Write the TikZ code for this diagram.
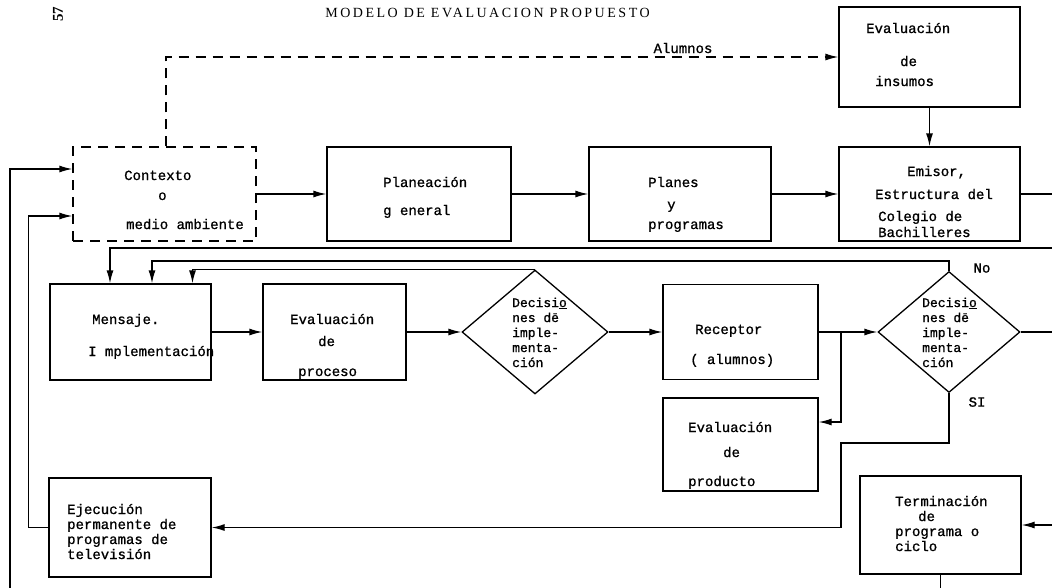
\documentclass[tikz,border=0pt]{standalone}
\usepackage{fontspec}
\setmainfont{Liberation Serif}
\newfontfamily\boxfont[FakeBold=1]{Liberation Mono}
\newfontfamily\titlefont[LetterSpace=18]{Liberation Serif}
\usetikzlibrary{arrows.meta,shapes.geometric}
\begin{document}
\begin{tikzpicture}[x=1pt,y=-1pt,
  box/.style={draw, rectangle, line width=1.3pt, inner sep=0pt},
  dbox/.style={box, dash pattern=on 10pt off 7pt},
  dia/.style={draw, diamond, line width=1.3pt, inner sep=0pt},
  txt/.style={font=\boxfont\fontsize{14}{15}\selectfont, align=left, inner sep=0pt, anchor=base west},
  dtxt/.style={font=\boxfont\fontsize{13}{15}\selectfont, align=left, inner sep=0pt, anchor=base west},
  lbl/.style={font=\boxfont\fontsize{14}{15}\selectfont, inner sep=0pt},
  conn/.style={line width=1.3pt, -{Latex[length=13pt,width=7pt]}},
  dconn/.style={conn, dash pattern=on 10pt off 7pt}]
\useasboundingbox (0,0) rectangle (1052,587);
\fill[white] (0,0) rectangle (1052,587);

% boxes
\node[box, minimum width=181pt, minimum height=100pt] (insumos) at (929.5,57) {};
\node[dbox, minimum width=183pt, minimum height=94pt] (contexto) at (164.5,194) {};
\node[box, minimum width=184pt, minimum height=94pt] (planeacion) at (419,194) {};
\node[box, minimum width=182pt, minimum height=94pt] (planes) at (680,194) {};
\node[box, minimum width=181pt, minimum height=94pt] (emisor) at (929.5,194) {};
\node[box, minimum width=161pt, minimum height=96pt] (mensaje) at (130.5,332) {};
\node[box, minimum width=143pt, minimum height=96pt] (proceso) at (334.5,332) {};
\node[dia, minimum width=146pt, minimum height=124pt] (dec1) at (535,332) {};
\node[box, minimum width=155pt, minimum height=95pt] (receptor) at (740.5,332) {};
\node[box, minimum width=155pt, minimum height=93pt] (producto) at (740.5,444.5) {};
\node[dia, minimum width=142pt, minimum height=121pt] (dec2) at (949,332) {};
\node[box, minimum width=161pt, minimum height=98pt] (terminacion) at (940.5,525) {};
\node[box, minimum width=162pt, minimum height=99pt] (ejecucion) at (130,527.5) {};

% texts (anchor = baseline of the last line)
\node[txt] (t-insumos) at (866,86) {Evaluación\\[18pt]\hspace*{34pt}de\\[5pt]\hspace*{9pt}insumos};
\node[txt] (t-contexto) at (124,229) {Contexto\\[5pt]\hspace*{34pt}o\\[14pt]\hspace*{2pt}medio ambiente};
\node[txt] (t-planeacion) at (383,215) {Planeación\\[13pt]g eneral};
\node[txt] (t-planes) at (648,229) {Planes\\[7pt]\hspace*{19pt}y\\[5pt]programas};
\node[txt] (t-emisor) at (875,237) {\hspace*{32pt}Emisor,\\[8pt]Estructura del\\[7pt]\hspace*{3pt}Colegio de\\[1pt]\hspace*{3pt}Bachilleres};
\node[txt] (t-mensaje) at (88,356) {\hspace*{4pt}Mensaje.\\[17pt]I mplementación};
\node[txt] (t-proceso) at (290,376) {Evaluación\\[7pt]\hspace*{28pt}de\\[15pt]\hspace*{8pt}proceso};
\node[dtxt] (t-dec1) at (512,367) {Decisi\underline{o}\\nes dē\\imple-\\menta-\\ción};
\node[txt] (t-receptor) at (690,364) {\hspace*{5pt}Receptor\\[15pt]( alumnos)};
\node[dtxt] (t-dec2) at (922,367) {Decisi\underline{o}\\nes dē\\imple-\\menta-\\ción};
\node[txt] (t-producto) at (688,486) {Evaluación\\[10pt]\hspace*{35pt}de\\[14pt]producto};
\node[txt] (t-terminacion) at (895,551) {Terminación\\\hspace*{23pt}de\\programa o\\ciclo};
\node[txt] (t-ejecucion) at (67,559) {Ejecución\\permanente de\\programas de\\televisión};

\node[lbl] (alumnos) at (683,48) {Alumnos};
\node[lbl] (no) at (982,268) {No};
\node[lbl] (si) at (977,402) {SI};
\node[font=\titlefont\fontsize{14}{16}\selectfont, inner sep=0pt] (title) at (487.5,12.5) {MODELO DE EVALUACION PROPUESTO};
\node[font=\bfseries\fontsize{15}{16}\selectfont, rotate=90, inner sep=0pt] (pag) at (58,14) {57};

% coordinates
\coordinate (mA) at ([xshift=-20.5pt]mensaje.north);
\coordinate (mB) at ([xshift=21.5pt]mensaje.north);
\coordinate (mC) at ([xshift=62pt]mensaje.north);
\coordinate (eR) at (1075,248);
\coordinate (dR) at (1075,332);
\coordinate (br) at (841,332);
\coordinate (sI) at (841,443);
\coordinate (bR) at (940.5,610);
\coordinate (bL) at (10,610);

% connectors
\draw[dconn] ([xshift=1.5pt]contexto.north) |- (insumos.west);
\draw[conn] (insumos) -- (emisor);
\draw[conn] (contexto) -- (planeacion);
\draw[conn] (planeacion) -- (planes);
\draw[conn] (planes) -- (emisor);
\draw[conn] (emisor.east) -| (eR) -| (mA);
\draw[conn] (dec2.north) -- ++(0,-10) -| (mB);
\draw[conn] (dec1.north) -| (mC);
\draw[conn] (mensaje) -- (proceso);
\draw[conn] (proceso) -- (dec1);
\draw[conn] (dec1) -- (receptor);
\draw[conn] (receptor) -- (dec2);
\draw[conn] (br) |- ([yshift=22.5pt]producto.east);
\draw[conn] (dec2.east) -- (dR) |- (terminacion.east);
\draw[conn] (dec2.south) |- (sI) |- (ejecucion.east);
\draw[conn] (terminacion.south) -- (bR) -- (bL) |- ([yshift=25pt]contexto.west);
\draw[conn] (ejecucion.west) -- ++(-20,0) |- ([yshift=-22pt]contexto.west);
\end{tikzpicture}
\end{document}
